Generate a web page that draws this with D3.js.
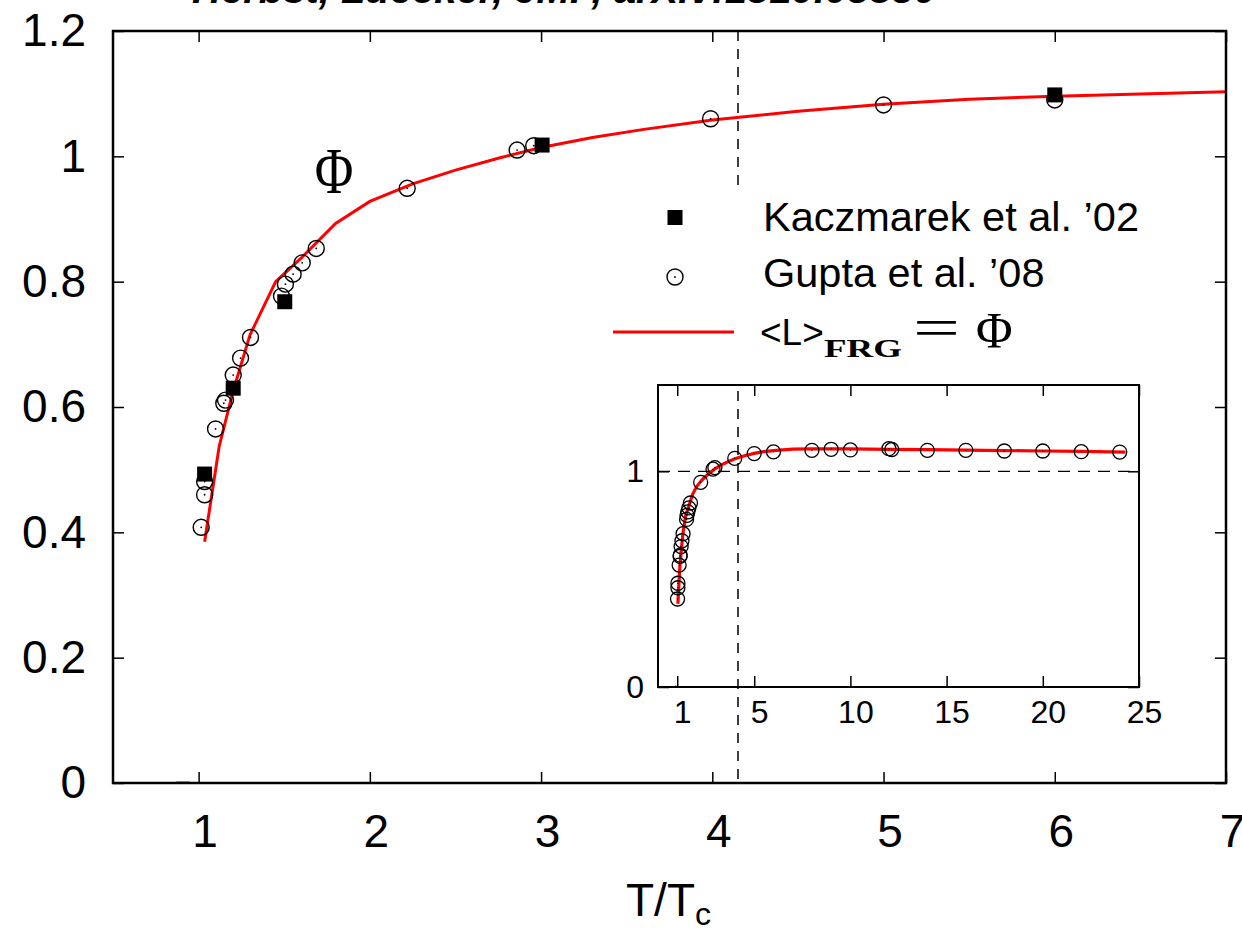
<!DOCTYPE html>
<html>
<head>
<meta charset="utf-8">
<script src="https://cdn.jsdelivr.net/npm/d3@7"></script>
<style>
  html, body { margin: 0; padding: 0; background: #fff; }
  svg { display: block; }
  text { font-family: "Liberation Sans", Arial, sans-serif; fill: #000; }
</style>
</head>
<body>
<svg id="chart" width="1242" height="930"></svg>
<script>
// ---------------- data ----------------
const titleText = "Herbst, Luecker, JMP, arXiv:1510.03830";

const xTicks = [1, 2, 3, 4, 5, 6, 7];
const yTicks = [0, 0.2, 0.4, 0.6, 0.8, 1, 1.2];
const yTickLabels = ["0", "0.2", "0.4", "0.6", "0.8", "1", "1.2"];
const insetXTicks = [1, 5, 10, 15, 20, 25];
const insetYTicks = [0, 1];

// FRG result <L>_FRG = Phi
const frgT   = [1.035, 1.12, 1.2, 1.3, 1.45, 1.6, 1.8, 2.0, 2.25, 2.5, 2.75, 3.0, 3.3, 3.6, 4.0, 4.5, 5.0, 5.5, 6.0, 7.0, 8.0, 10, 12, 14, 16, 18, 20, 22, 24.3];
const frgPhi = [0.385, 0.537, 0.624, 0.715, 0.800, 0.838, 0.893, 0.928, 0.956, 0.978, 0.997, 1.014, 1.030, 1.043, 1.058, 1.072, 1.083, 1.091, 1.096, 1.103, 1.104, 1.104, 1.102, 1.100, 1.098, 1.096, 1.094, 1.092, 1.089];
// confined phase (Phi = 0 below Tc)
const confT   = [0.87, 0.95];
const confPhi = [0, 0];

// Kaczmarek et al. '02
const kaczT   = [1.035, 1.202, 1.503, 3.006, 6.0];
const kaczPhi = [0.493, 0.630, 0.768, 1.018, 1.098];

// Gupta et al. '08
const guptaT   = [1.015, 1.035, 1.035, 1.099, 1.147, 1.157, 1.202, 1.245, 1.303, 1.484, 1.507, 1.552, 1.605, 1.687, 2.218, 2.86, 2.957, 3.99, 5.0, 6.0, 8.0, 9.0, 10.0, 12.0, 12.15, 14.0, 16.0, 18.0, 20.0, 22.0, 24.0];
const guptaPhi = [0.408, 0.460, 0.481, 0.565, 0.606, 0.611, 0.651, 0.678, 0.711, 0.777, 0.796, 0.812, 0.830, 0.853, 0.949, 1.010, 1.017, 1.060, 1.082, 1.090, 1.097, 1.102, 1.099, 1.105, 1.101, 1.097, 1.097, 1.094, 1.094, 1.091, 1.089];

const vLineT = 4.15;       // vertical dashed marker
const insetHLine = 1;      // horizontal dashed line in inset

// ---------------- drawing ----------------
const zip = (a, b) => a.map((v, i) => [v, b[i]]);
const frg = zip(frgT, frgPhi);
const conf = zip(confT, confPhi);
const kacz = zip(kaczT, kaczPhi);
const gupta = zip(guptaT, guptaPhi);

const svg = d3.select("#chart");
const M = { left: 113, right: 1226, top: 31, bottom: 783 };
const x = d3.scaleLinear().domain([0.5, 7]).range([M.left, M.right]);
const y = d3.scaleLinear().domain([0, 1.2]).range([M.bottom, M.top]);

// title (cut off at the top)
svg.append("text").attr("x", 192).attr("y", 3)
  .style("font-size", "40px").style("font-weight", "bold").style("font-style", "italic")
  .text(titleText);

svg.append("defs").append("clipPath").attr("id", "mainClip")
  .append("rect").attr("x", M.left).attr("y", M.top)
  .attr("width", M.right - M.left).attr("height", M.bottom - M.top);

// axes
const styleAxis = (g, fs) => {
  g.select(".domain").remove();
  g.selectAll(".tick line").attr("stroke", "#000").attr("stroke-width", 1.5);
  g.selectAll(".tick text").style("font-size", fs).attr("fill", "#000")
    .style("font-family", '"Liberation Sans", Arial, sans-serif');
};
const gx = svg.append("g").attr("transform", `translate(0,${M.bottom})`)
  .call(d3.axisBottom(x).tickValues(xTicks).tickFormat(d3.format("d")).tickSize(-11).tickPadding(31));
styleAxis(gx, "46px");
gx.selectAll(".tick text").attr("dx", 6);
const gxt = svg.append("g").attr("transform", `translate(0,${M.top})`)
  .call(d3.axisTop(x).tickValues(xTicks).tickFormat("").tickSize(-11));
styleAxis(gxt, "46px");
const gy = svg.append("g").attr("transform", `translate(${M.left},0)`)
  .call(d3.axisLeft(y).tickValues(yTicks).tickFormat((d, i) => yTickLabels[i]).tickSize(-11).tickPadding(27));
styleAxis(gy, "46px");
const gyr = svg.append("g").attr("transform", `translate(${M.right},0)`)
  .call(d3.axisRight(y).tickValues(yTicks).tickFormat("").tickSize(-11));
styleAxis(gyr, "46px");

// x label
const xl = svg.append("text").attr("x", 626).attr("y", 916).style("font-size", "46px");
xl.append("tspan").text("T/T");
xl.append("tspan").attr("dy", 9).style("font-size", "32px").text("c");

// curves and points (main)
const plot = svg.append("g").attr("clip-path", "url(#mainClip)");
const line = d3.line().x(d => x(d[0])).y(d => y(d[1]));
plot.append("path").datum(conf).attr("d", line).attr("fill", "none").attr("stroke", "#ff0000").attr("stroke-width", 3);
plot.append("path").datum(frg).attr("d", line).attr("fill", "none").attr("stroke", "#ff0000").attr("stroke-width", 3);

const circ = plot.selectAll(".gp").data(gupta).enter().append("g")
  .attr("transform", d => `translate(${x(d[0])},${y(d[1])})`);
circ.append("circle").attr("r", 8).attr("fill", "none").attr("stroke", "#000").attr("stroke-width", 1.4);
circ.append("circle").attr("r", 0.9).attr("fill", "#000");

plot.selectAll(".kz").data(kacz).enter().append("rect")
  .attr("x", d => x(d[0]) - 7.5).attr("y", d => y(d[1]) - 7.5)
  .attr("width", 15).attr("height", 15).attr("fill", "#000");

// vertical dashed marker
svg.append("line").attr("x1", x(vLineT)).attr("x2", x(vLineT)).attr("y1", M.top).attr("y2", M.bottom)
  .attr("stroke", "#000").attr("stroke-width", 1.5).attr("stroke-dasharray", "10,8");

// frame
svg.append("rect").attr("x", M.left).attr("y", M.top).attr("width", M.right - M.left).attr("height", M.bottom - M.top)
  .attr("fill", "none").attr("stroke", "#000").attr("stroke-width", 2.5);

// Phi annotation
svg.append("text").attr("x", 334).attr("y", 193).attr("text-anchor", "middle")
  .style("font-family", '"Liberation Serif", "DejaVu Serif", serif').style("font-size", "66px")
  .attr("transform", "translate(334,0) scale(0.8,1) translate(-334,0)")
  .text("Φ");

// legend (opaque)
const lg = svg.append("g");
lg.append("rect").attr("x", 600).attr("y", 188).attr("width", 555).attr("height", 196).attr("fill", "#fff");
lg.append("rect").attr("x", 667.5).attr("y", 210).attr("width", 15).attr("height", 15).attr("fill", "#000");
lg.append("text").attr("x", 763).attr("y", 231).style("font-size", "41.5px").text("Kaczmarek et al. ’02");
lg.append("circle").attr("cx", 675).attr("cy", 277).attr("r", 8).attr("fill", "none").attr("stroke", "#000").attr("stroke-width", 1.4);
lg.append("circle").attr("cx", 675).attr("cy", 277).attr("r", 0.9).attr("fill", "#000");
lg.append("text").attr("x", 763).attr("y", 287).style("font-size", "41.5px").text("Gupta et al. ’08");
lg.append("line").attr("x1", 613).attr("x2", 734).attr("y1", 332).attr("y2", 332).attr("stroke", "#ff0000").attr("stroke-width", 3);
lg.append("text").attr("x", 760).attr("y", 345).style("font-size", "37px").text("<L>");
lg.append("text").attr("x", 824).attr("y", 357).attr("textLength", 78).attr("lengthAdjust", "spacingAndGlyphs")
  .style("font-family", '"Liberation Serif", serif').style("font-weight", "bold").style("font-size", "26px").text("FRG");
lg.append("text").attr("x", 913).attr("y", 346).attr("textLength", 47).attr("lengthAdjust", "spacingAndGlyphs")
  .style("font-family", '"Liberation Serif", serif').style("font-size", "54px").text("=");
lg.append("text").attr("x", 976).attr("y", 347)
  .style("font-family", '"Liberation Serif", serif').style("font-size", "50px").text("Φ");

// ---------------- inset ----------------
const I = { left: 658, right: 1139, top: 385, bottom: 687 };
const xi = d3.scaleLinear().domain([0, 25]).range([I.left, I.right]);
const yi = d3.scaleLinear().domain([0, 1.4]).range([I.bottom, I.top]);

svg.append("defs").append("clipPath").attr("id", "insetClip")
  .append("rect").attr("x", I.left).attr("y", I.top)
  .attr("width", I.right - I.left).attr("height", I.bottom - I.top);

const ix = svg.append("g").attr("transform", `translate(0,${I.bottom})`)
  .call(d3.axisBottom(xi).tickValues(insetXTicks).tickFormat(d3.format("d")).tickSize(-11).tickPadding(13));
styleAxis(ix, "32px");
ix.selectAll(".tick text").attr("dx", 5);
const ixt = svg.append("g").attr("transform", `translate(0,${I.top})`)
  .call(d3.axisTop(xi).tickValues(insetXTicks).tickFormat("").tickSize(-11));
styleAxis(ixt, "32px");
const iy = svg.append("g").attr("transform", `translate(${I.left},0)`)
  .call(d3.axisLeft(yi).tickValues(insetYTicks).tickFormat(d3.format("d")).tickSize(-11).tickPadding(14));
styleAxis(iy, "32px");
const iyr = svg.append("g").attr("transform", `translate(${I.right},0)`)
  .call(d3.axisRight(yi).tickValues(insetYTicks).tickFormat("").tickSize(-11));
styleAxis(iyr, "32px");

const iplot = svg.append("g").attr("clip-path", "url(#insetClip)");
iplot.append("line").attr("x1", I.left).attr("x2", I.right).attr("y1", yi(insetHLine)).attr("y2", yi(insetHLine))
  .attr("stroke", "#000").attr("stroke-width", 1.3).attr("stroke-dasharray", "12,8");
const iline = d3.line().x(d => xi(d[0])).y(d => yi(d[1]));
iplot.append("path").datum(conf).attr("d", iline).attr("fill", "none").attr("stroke", "#ff0000").attr("stroke-width", 3);
iplot.append("path").datum(frg).attr("d", iline).attr("fill", "none").attr("stroke", "#ff0000").attr("stroke-width", 3.2);
const icirc = iplot.selectAll(".igp").data(gupta).enter().append("g")
  .attr("transform", d => `translate(${xi(d[0])},${yi(d[1])})`);
icirc.append("circle").attr("r", 7).attr("fill", "none").attr("stroke", "#000").attr("stroke-width", 1.3);
icirc.append("circle").attr("r", 0.7).attr("fill", "#000");

svg.append("rect").attr("x", I.left).attr("y", I.top).attr("width", I.right - I.left).attr("height", I.bottom - I.top)
  .attr("fill", "none").attr("stroke", "#000").attr("stroke-width", 2);
</script>
</body>
</html>
